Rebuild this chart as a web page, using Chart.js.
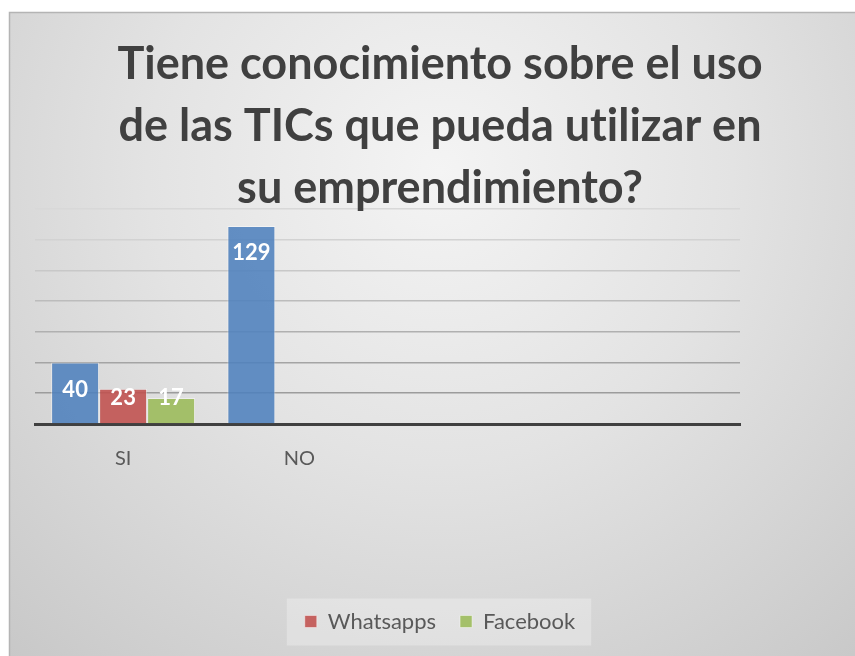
<!DOCTYPE html>
<html>
<head>
<meta charset="utf-8">
<script src="https://cdn.jsdelivr.net/npm/chart.js@4.4.1/dist/chart.umd.min.js"></script>
<style>
  html, body { margin: 0; padding: 0; background: #ffffff; }
  #wrap { position: absolute; left: 0; top: 0; width: 855px; height: 656px; }
</style>
</head>
<body>
<div id="wrap"><canvas id="c" width="855" height="656"></canvas></div>
<script>
// ---- data ----
const titleLines = ['Tiene conocimiento sobre el uso', 'de las TICs que pueda utilizar en', 'su emprendimiento?'];
const categories = ['SI', 'NO', '', ''];
const seriesNames = ['Serie 1', 'Whatsapps', 'Facebook'];
const serie1Values = [40, 129, null, null];
const whatsappsValues = [23, null, null, null];
const facebookValues = [17, null, null, null];
const yMax = 140;
const yStep = 20;

// ---- plugins ----
const panelPlugin = {
  id: 'panel',
  beforeDraw(chart) {
    const ctx = chart.ctx;
    try { ctx.textRendering = 'optimizeSpeed'; } catch (e) {}
    ctx.save();
    const x0 = 9, y0 = 12, x1 = 855, y1 = 656;
    const g = ctx.createRadialGradient(440, 170, 0, 440, 170, 650);
    g.addColorStop(0, '#f4f4f4');
    g.addColorStop(0.45, '#e3e3e3');
    g.addColorStop(1, '#c8c8c8');
    ctx.fillStyle = g;
    ctx.fillRect(x0, y0, x1 - x0, y1 - y0);
    ctx.strokeStyle = '#b4b4b4';
    ctx.lineWidth = 1.5;
    ctx.beginPath();
    ctx.moveTo(x0 + 0.5, y1);
    ctx.lineTo(x0 + 0.5, y0 + 0.5);
    ctx.lineTo(x1, y0 + 0.5);
    ctx.stroke();
    // legend background
    const lg = chart.legend;
    if (lg && lg.legendHitBoxes && lg.legendHitBoxes.length) {
      const hb = lg.legendHitBoxes;
      const first = hb[0], last = hb[hb.length - 1];
      const cy = first.top + first.height / 2;
      const lx = first.left - 18, rx = last.left + last.width + 16;
      ctx.fillStyle = 'rgba(255,255,255,0.28)';
      ctx.fillRect(lx, cy - 23, rx - lx, 47);
    }
    ctx.restore();
  }
};

const valueLabelPlugin = {
  id: 'valueLabels',
  afterDatasetsDraw(chart) {
    const ctx = chart.ctx;
    ctx.save();
    ctx.font = 'bold 22px Lato';
    ctx.fillStyle = '#ffffff';
    ctx.textAlign = 'center';
    ctx.textBaseline = 'middle';
    chart.data.datasets.forEach((ds, i) => {
      const meta = chart.getDatasetMeta(i);
      meta.data.forEach((el, j) => {
        const v = ds.data[j];
        if (v === null || v === undefined) return;
        const y = Math.min(el.y + 27, el.base - 25);
        ctx.fillText(String(v), el.x, y);
      });
    });
    ctx.restore();
  }
};

const gridColors = ['rgba(0,0,0,0)', '#9c9c9c', '#a4a4a4', '#b0b0b0', '#bcbcbc', '#c8c8c8', '#d2d2d2', '#d8d8d8'];

new Chart(document.getElementById('c'), {
  type: 'bar',
  data: {
    labels: categories,
    datasets: [
      { label: seriesNames[0], data: serie1Values, backgroundColor: 'rgba(79,129,189,0.88)', borderColor: 'rgba(255,255,255,0.45)', borderWidth: 1 },
      { label: seriesNames[1], data: whatsappsValues, backgroundColor: 'rgba(192,80,77,0.88)', borderColor: 'rgba(255,255,255,0.45)', borderWidth: 1 },
      { label: seriesNames[2], data: facebookValues, backgroundColor: 'rgba(155,187,89,0.88)', borderColor: 'rgba(255,255,255,0.45)', borderWidth: 1 }
    ]
  },
  options: {
    responsive: false,
    animation: false,
    devicePixelRatio: 1,
    categoryPercentage: 0.817,
    barPercentage: 1.0,
    layout: { padding: { left: 25, right: 0, top: 0, bottom: 13.5 } },
    plugins: {
      title: {
        display: true,
        text: titleLines,
        color: '#404040',
        font: { family: 'Lato', size: 45, weight: 'bold', lineHeight: 62 / 45 },
        padding: { top: 33, bottom: -10 }
      },
      legend: {
        display: true,
        position: 'bottom',
        labels: {
          filter: (item) => item.datasetIndex !== 0,
          color: '#595959',
          font: { family: 'Lato', size: 22 },
          boxWidth: 12,
          boxHeight: 12,
          padding: 24
        }
      },
      tooltip: { enabled: false }
    },
    scales: {
      x: {
        grid: { display: false, drawTicks: false },
        border: { display: true, color: '#404040', width: 3 },
        ticks: { color: '#595959', font: { family: 'Lato', size: 20 }, padding: 23 },
        afterFit: (s) => { s.height = 162.5; }
      },
      y: {
        min: 0,
        max: yMax,
        ticks: { display: false, stepSize: yStep },
        border: { display: false },
        grid: {
          drawTicks: false,
          lineWidth: 1.6,
          color: (c) => gridColors[c.index] || '#d8d8d8'
        },
        afterFit: (s) => { s.width = 10; }
      },
      y2: {
        position: 'right',
        display: true,
        ticks: { display: false },
        border: { display: false },
        grid: { display: false, drawTicks: false },
        afterFit: (s) => { s.width = 115; }
      }
    }
  },
  plugins: [panelPlugin, valueLabelPlugin]
});
</script>
</body>
</html>
